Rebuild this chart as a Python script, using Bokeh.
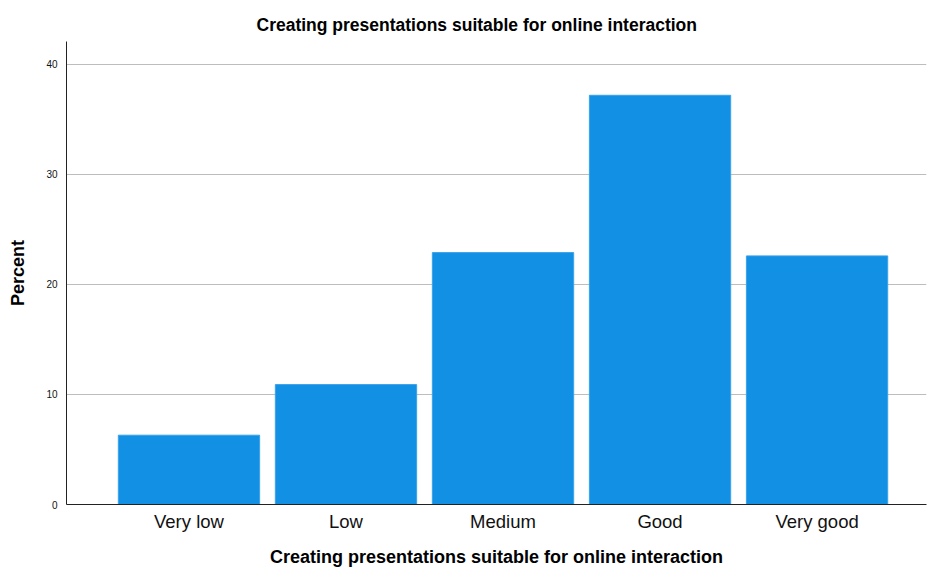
from bokeh.plotting import figure
from bokeh.models import FixedTicker, Range1d
from bokeh.embed import file_html
from bokeh.resources import INLINE

categories = ["Very low", "Low", "Medium", "Good", "Very good"]
percent = [6.3, 10.9, 22.9, 37.2, 22.6]
positions = [1, 2, 3, 4, 5]
y_ticks = [0, 10, 20, 30, 40]

title_text = "Creating presentations suitable for online interaction"

p = figure(width=927, height=569, output_backend="svg", toolbar_location=None,
           x_range=Range1d(0.22, 5.697), y_range=Range1d(0, 42.09),
           min_border_left=66, min_border_right=1, min_border_top=41, min_border_bottom=0)

p.vbar(x=positions, top=percent, width=0.9, fill_color="#1190e4", line_color="#3aa2ea", line_width=1)

p.title.text = title_text
p.title.align = "left"
p.title.offset = 190
p.title.text_font = "Liberation Sans"
p.title.text_font_size = "17.5px"
p.title.text_font_style = "bold"
p.title.text_color = "#000000"
p.title.standoff = 13

p.xaxis.ticker = FixedTicker(ticks=positions)
p.xaxis.major_label_overrides = {pos: cat for pos, cat in zip(positions, categories)}
p.xaxis.axis_label = title_text
p.yaxis.ticker = FixedTicker(ticks=y_ticks)
p.yaxis.axis_label = "Percent"

for ax in (p.xaxis[0], p.yaxis[0]):
    ax.axis_line_color = "#222222"
    ax.axis_line_width = 1
    ax.major_tick_in = 0
    ax.major_tick_out = 0
    ax.minor_tick_in = 0
    ax.minor_tick_out = 0
    ax.axis_label_text_font = "Liberation Sans"
    ax.axis_label_text_font_style = "bold"
    ax.axis_label_text_font_size = "18px"
    ax.axis_label_text_color = "#000000"
    ax.major_label_text_font = "Liberation Sans"
    ax.major_label_text_color = "#111111"

p.xaxis.major_label_text_font_size = "18.5px"
p.xaxis.major_label_standoff = 6
p.xaxis.axis_label_standoff = 12
p.yaxis.major_label_text_font_size = "10px"
p.yaxis.major_label_standoff = 9
p.yaxis.axis_label_standoff = 15

p.xgrid.grid_line_color = None
p.ygrid.grid_line_color = "#bdbdbd"
p.ygrid.grid_line_width = 1
p.outline_line_color = None
p.background_fill_color = "white"
p.border_fill_color = "white"

open("out.html", "w").write(file_html(p, INLINE))
